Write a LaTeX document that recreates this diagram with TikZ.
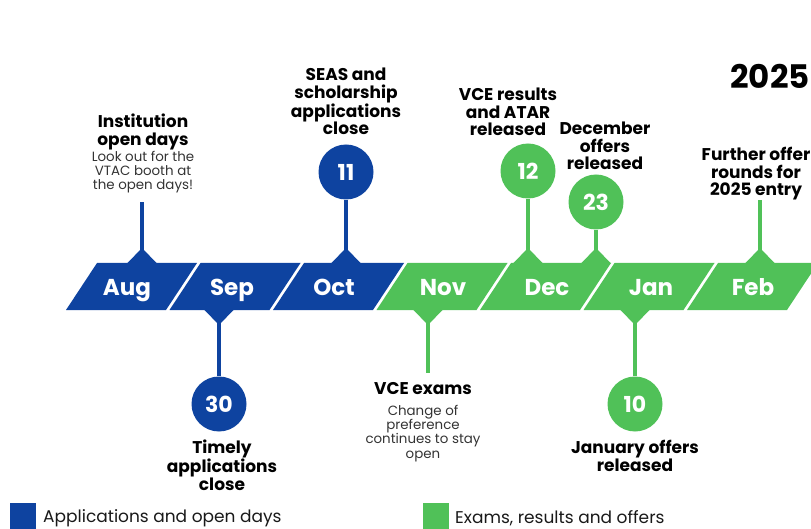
\documentclass[tikz,border=0pt]{standalone}
\usepackage{fontspec}
\setmainfont{Poppins}
\definecolor{vblue}{RGB}{14,67,160}
\definecolor{vgreen}{RGB}{80,193,88}
\begin{document}
\begin{tikzpicture}[x=1pt,y=-1pt,
  month/.style={text=white,font=\bfseries\fontsize{23}{23}\selectfont,anchor=base,inner sep=0},
  daycirc/.style={circle,fill=#1,minimum size=55pt,inner sep=0,text=white,font=\bfseries\fontsize{22}{22}\selectfont},
  stem/.style={draw=#1,line width=3.5pt},
  head/.style={font={\bfseries\fontsize{17}{17.5}\selectfont},align=center,anchor=north,inner sep=0},
  sub/.style={font={\fontsize{13.4}{14.2}\selectfont},align=center,anchor=north,inner sep=0,text=black!80},
  legend/.style={font=\fontsize{17}{17}\selectfont,anchor=west,inner sep=0,text=black!90},
  key/.style={fill=#1,minimum size=26pt,inner sep=0,anchor=north west}
]
\useasboundingbox (0,0) rectangle (811,529);
\clip (0,0) rectangle (811,529);
% band segments
\foreach \i/\c in {0/vblue,1/vblue,2/vblue,3/vgreen,4/vgreen,5/vgreen,6/vgreen}{
  \pgfmathsetmacro\T{97+103.5*\i}
  \fill[\c] (\T,263) -- (\T+100,263) -- (\T+69,310) -- (\T-31,310) -- cycle;
}
% pointers up
\foreach \x/\c in {142/vblue,346/vblue,528/vgreen,596/vgreen,760/vgreen}{
  \fill[\c] (\x-15,263.5) -- (\x,248) -- (\x+15,263.5) -- cycle;
}
% pointers down
\foreach \x/\c in {219/vblue,428/vgreen,635/vgreen}{
  \fill[\c] (\x-15,309.5) -- (\x,325) -- (\x+15,309.5) -- cycle;
}
% month labels
\node[month] (mAug) at (127,296) {Aug};
\node[month] (mSep) at (232,296) {Sep};
\node[month] (mOct) at (334,296) {Oct};
\node[month] (mNov) at (443,296) {Nov};
\node[month] (mDec) at (547,296) {Dec};
\node[month] (mJan) at (651,296) {Jan};
\node[month] (mFeb) at (753,296) {Feb};
% stem coordinates
\coordinate (pAug) at (142,250);
\coordinate (eAug) at (142,202);
\coordinate (pOct) at (346,250);
\coordinate (pD12) at (528,250);
\coordinate (pD23) at (596,250);
\coordinate (pFeb) at (760,250);
\coordinate (eFeb) at (760,200);
\coordinate (pSep) at (219,323);
\coordinate (pNov) at (428,323);
\coordinate (eNov) at (428,373);
\coordinate (pJan) at (635,323);
% circles
\node[daycirc=vblue] (d11) at (346,172) {11};
\node[daycirc=vblue] (d30) at (219,404) {30};
\node[daycirc=vgreen] (d12) at (528,171) {12};
\node[daycirc=vgreen] (d23) at (596,202) {23};
\node[daycirc=vgreen] (d10) at (635,404) {10};
% stems
\draw[stem=vblue] (pAug) -- (eAug);
\draw[stem=vblue] (pOct) -- (d11);
\draw[stem=vblue] (pSep) -- (d30);
\draw[stem=vgreen] (pD12) -- (d12);
\draw[stem=vgreen] (pD23) -- (d23);
\draw[stem=vgreen] (pFeb) -- (eFeb);
\draw[stem=vgreen] (pNov) -- (eNov);
\draw[stem=vgreen] (pJan) -- (d10);
% texts
\node[head] (tInst) at (143,114) {Institution\\open days};
\node[sub] (sInst) at (143,151) {Look out for the\\VTAC booth at\\the open days!};
\node[head] (tSeas) at (346,68) {SEAS and\\scholarship\\applications\\close};
\node[head] (tVce) at (508,88) {VCE results\\and ATAR\\released};
\node[head] (tDecO) at (605,122) {December\\offers\\released};
\node[head] (tFur) at (756,147) {Further offer\\rounds for\\2025 entry};
\node[font=\bfseries\fontsize{32.5}{32.5}\selectfont,anchor=north east,inner sep=0] (year) at (810,64) {2025};
\node[head] (tTim) at (222,440) {Timely\\applications\\close};
\node[head] (tExam) at (423,382) {VCE exams};
\node[sub] (sExam) at (423,405) {Change of\\preference\\continues to stay\\open};
\node[head] (tJanO) at (635,440) {January offers\\released};
% legend
\node[key=vblue] (kb) at (10,503) {};
\node[legend] (lb) at (43,518) {Applications and open days};
\node[key=vgreen] (kg) at (423,503) {};
\node[legend] (lg) at (455,518) {Exams, results and offers};
\end{tikzpicture}
\end{document}
